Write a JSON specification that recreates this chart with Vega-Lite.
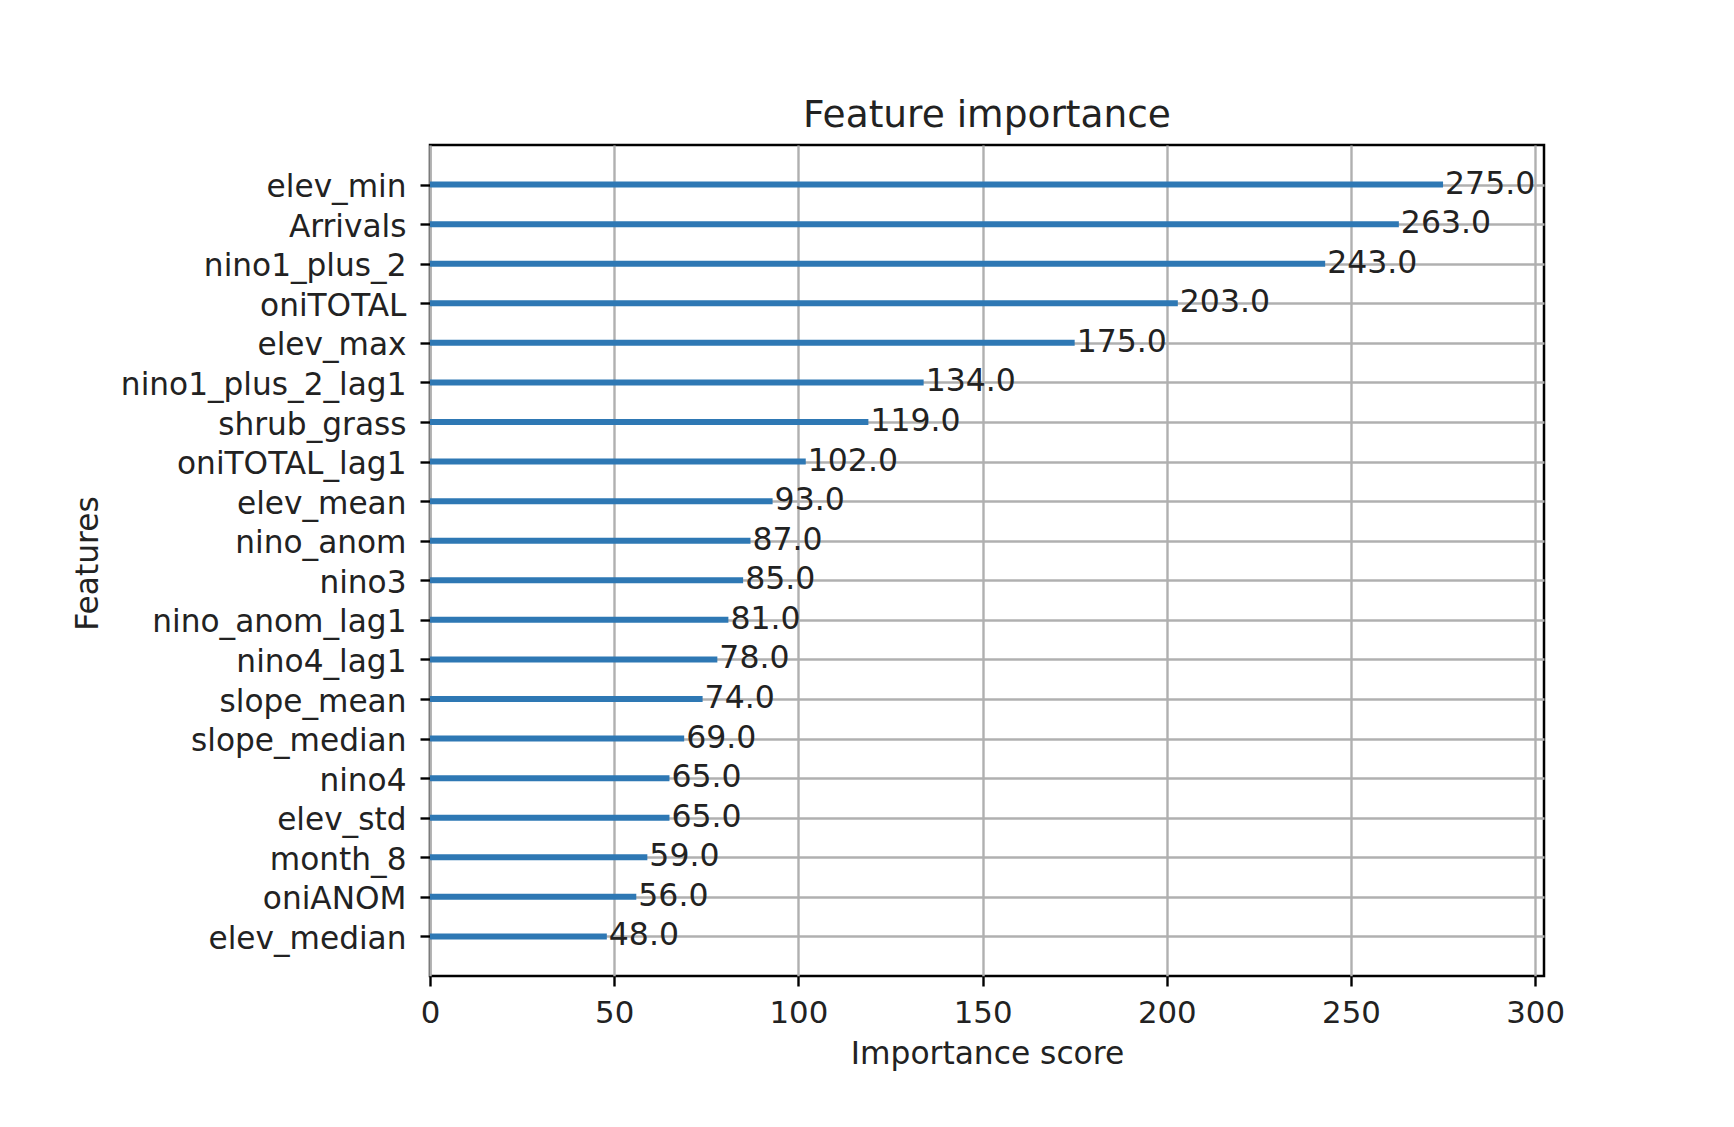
{
  "$schema": "https://vega.github.io/schema/vega-lite/v6.json",
  "autosize": {"type": "none"},
  "padding": {"left": 430, "top": 145, "right": 190, "bottom": 151},
  "width": 1114,
  "height": 831,
  "background": "white",
  "config": {
    "font": "DejaVu Sans",
    "view": {"stroke": "#000000", "strokeWidth": 2.5}
  },
  "title": {"text": "Feature importance", "fontSize": 37.5, "font": "DejaVu Sans", "fontWeight": "normal", "color": "#222222", "offset": 11, "anchor": "middle"},
  "data": {
    "values": [
      {"feature": "elev_min", "score": 275},
      {"feature": "Arrivals", "score": 263},
      {"feature": "nino1_plus_2", "score": 243},
      {"feature": "oniTOTAL", "score": 203},
      {"feature": "elev_max", "score": 175},
      {"feature": "nino1_plus_2_lag1", "score": 134},
      {"feature": "shrub_grass", "score": 119},
      {"feature": "oniTOTAL_lag1", "score": 102},
      {"feature": "elev_mean", "score": 93},
      {"feature": "nino_anom", "score": 87},
      {"feature": "nino3", "score": 85},
      {"feature": "nino_anom_lag1", "score": 81},
      {"feature": "nino4_lag1", "score": 78},
      {"feature": "slope_mean", "score": 74},
      {"feature": "slope_median", "score": 69},
      {"feature": "nino4", "score": 65},
      {"feature": "elev_std", "score": 65},
      {"feature": "month_8", "score": 59},
      {"feature": "oniANOM", "score": 56},
      {"feature": "elev_median", "score": 48}
    ]
  },
  "encoding": {
    "y": {
      "field": "feature", "type": "nominal", "sort": null,
      "scale": {"type": "point", "padding": 1},
      "axis": {
        "title": "Features", "titleFontSize": 31.3, "titleFontWeight": "normal", "titleColor": "#222222",
        "titleX": -342, "titleY": 418, "titleAngle": -90, "titleAlign": "center", "titleBaseline": "middle",
        "labelFontSize": 31.2, "labelColor": "#222222", "labelPadding": 14, "labelLimit": 0, "labelOffset": 3,
        "tickColor": "#000000", "tickSize": 10, "tickWidth": 2.4,
        "domain": false, "grid": true, "gridColor": "#b0b0b0", "gridWidth": 2.4
      }
    },
    "x": {
      "field": "score", "type": "quantitative",
      "scale": {"domain": [0, 302.4], "nice": false, "zero": true},
      "axis": {
        "title": "Importance score", "titleFontSize": 31.3, "titleFontWeight": "normal", "titleColor": "#222222", "titlePadding": 11,
        "values": [0, 50, 100, 150, 200, 250, 300], "format": "d",
        "labelFontSize": 30.8, "labelColor": "#222222", "labelPadding": 12, "labelFlush": false,
        "tickColor": "#000000", "tickSize": 10, "tickWidth": 2.4,
        "domain": false, "grid": true, "gridColor": "#b0b0b0", "gridWidth": 2.4
      }
    }
  },
  "layer": [
    {"mark": {"type": "bar", "size": 6, "color": "#2e78b4"}},
    {
      "mark": {"type": "text", "align": "left", "baseline": "middle", "dx": 2, "fontSize": 31.5, "color": "#222222"},
      "encoding": {"text": {"field": "score", "type": "quantitative", "format": ".1f"}}
    }
  ]
}
